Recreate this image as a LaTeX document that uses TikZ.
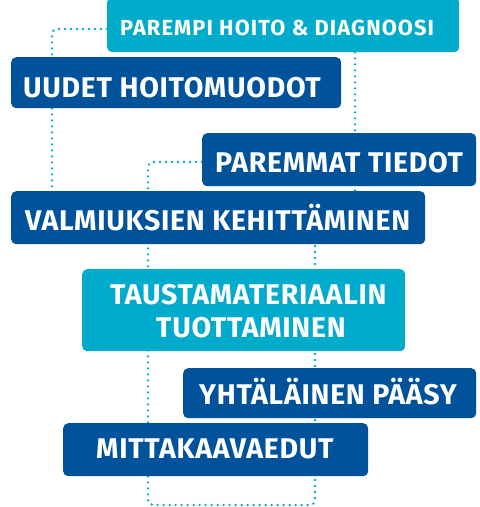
\documentclass[tikz,border=0pt]{standalone}
\usepackage{fontspec}
\setmainfont{Fira Sans}
\newfontfamily\bigfont{Fira Sans}[LetterSpace=2.5]
\newfontfamily\smallfont{Fira Sans}[LetterSpace=5]
\usetikzlibrary{backgrounds}
\definecolor{lightbl}{HTML}{00ABCC}
\definecolor{darkbl}{HTML}{00529B}
\tikzset{
  boxbase/.style={rectangle, rounded corners=5pt, inner sep=0pt, anchor=north west, draw=none},
  lightbox/.style={boxbase, fill=lightbl},
  darkbox/.style={boxbase, fill=darkbl},
  lbl/.style={text=white, font=\bigfont\fontsize{28.5}{33}\selectfont\bfseries, inner sep=0pt, anchor=base west},
  smalllbl/.style={lbl, font=\smallfont\fontsize{21.8}{26}\selectfont\bfseries},
  dotline/.style={draw=lightbl, line width=2.6pt, line cap=round, dash pattern=on 0pt off 6pt, rounded corners=5pt}
}
\begin{document}
\begin{tikzpicture}[x=1pt,y=-1pt]
\useasboundingbox (0,0) rectangle (480,507);
% boxes
\node[lightbox, minimum width=352pt, minimum height=55pt] (b1) at (107,-3) {};
\node[darkbox, minimum width=330pt, minimum height=51pt] (b2) at (11,57) {};
\node[darkbox, minimum width=274pt, minimum height=53pt] (b3) at (202,133) {};
\node[darkbox, minimum width=414pt, minimum height=53pt] (b4) at (11,191) {};
\node[lightbox, minimum width=323pt, minimum height=82pt] (b5) at (82,269) {};
\node[darkbox, minimum width=293pt, minimum height=50pt] (b6) at (183,368) {};
\node[darkbox, minimum width=305pt, minimum height=53pt] (b7) at (63,423) {};
% labels
\node[smalllbl] (t1) at (120,35) {PAREMPI HOITO \& DIAGNOOSI};
\node[lbl] (t2) at (23,97) {UUDET HOITOMUODOT};
\node[lbl] (t3) at (215,172) {PAREMMAT TIEDOT};
\node[lbl] (t4) at (25,230) {VALMIUKSIEN KEHITTÄMINEN};
\node[lbl] (t5a) at (110,304) {TAUSTAMATERIAALIN};
\node[lbl] (t5b) at (156,337) {TUOTTAMINEN};
\node[lbl] (t6) at (199,404) {YHTÄLÄINEN PÄÄSY};
\node[lbl] (t7) at (96,458) {MITTAKAAVAEDUT};
% coordinates for connectors
\coordinate (ca) at (52,29);
\coordinate (cb) at (355,0);
\coordinate (cc) at (148,162);
\coordinate (cbl) at (148,505);
\coordinate (cbr) at (315,505);
\begin{scope}[on background layer]
\draw[dotline] (b1.west |- ca) -| (ca |- b4.north);
\draw[dotline] (cb |- b1.south) -- (cb |- b4.north);
\draw[dotline] (b3.west |- cc) -| (cbl) -| (cbr |- b3.south);
\end{scope}
\end{tikzpicture}
\end{document}
